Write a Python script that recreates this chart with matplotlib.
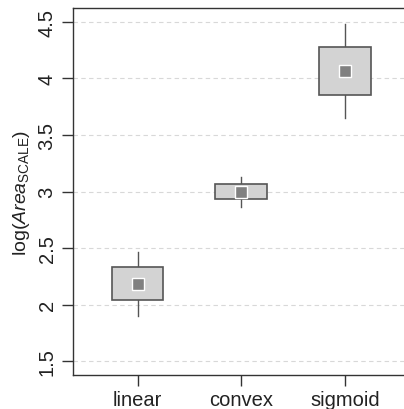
import matplotlib
matplotlib.use("Agg")
import matplotlib.pyplot as plt
from matplotlib.patches import Rectangle

plt.rcParams['font.family'] = ['Liberation Sans', 'DejaVu Sans']
plt.rcParams['mathtext.fontset'] = 'custom'
plt.rcParams['mathtext.rm'] = 'Liberation Sans'
plt.rcParams['mathtext.it'] = 'Liberation Sans:italic'
plt.rcParams['mathtext.bf'] = 'Liberation Sans:bold'

categories = ["linear", "convex", "sigmoid"]
centers = [2.185, 3.0, 4.065]
box_low = [2.038, 2.932, 3.851]
box_high = [2.333, 3.064, 4.276]
whisk_low = [1.897, 2.867, 3.648]
whisk_high = [2.47, 3.126, 4.482]
yticks = [1.5, 2, 2.5, 3, 3.5, 4, 4.5]
ytick_labels = ["1.5", "2", "2.5", "3", "3.5", "4", "4.5"]

W, H = 404, 410
fig = plt.figure(figsize=(W / 100, H / 100), dpi=100)
left, right, top, bottom = 73.3, 409, 9, 376
ax = fig.add_axes([left / W, 1 - bottom / H, (right - left) / W, (bottom - top) / H])

edge = '#555555'
for i, cat in enumerate(categories):
    x = i + 1
    ax.plot([x, x], [box_high[i], whisk_high[i]], color=edge, lw=1.0, zorder=2)
    ax.plot([x, x], [whisk_low[i], box_low[i]], color=edge, lw=1.0, zorder=2)
    ax.add_patch(Rectangle((x - 0.25, box_low[i]), 0.5, box_high[i] - box_low[i],
                           facecolor='#d3d3d3', edgecolor=edge, lw=1.2, zorder=3))
    ax.plot([x], [centers[i]], marker='s', markersize=8, markerfacecolor='#808080',
            markeredgecolor='white', markeredgewidth=1.0, linestyle='none', zorder=4)

ax.set_xlim(0.38, 3.62)
ax.set_ylim(1.38, 4.62)
ax.set_yticks(yticks)
ax.set_yticklabels(ytick_labels, rotation=90, va='center')
ax.set_xticks([1, 2, 3])
ax.set_xticklabels(categories)
for y in yticks:
    ax.axhline(y, color='#d8d8d8', lw=0.8, ls=(0, (4, 3)), zorder=1)

for s in ['left', 'bottom', 'top', 'right']:
    ax.spines[s].set_color('#333333')
    ax.spines[s].set_linewidth(1.0)
ax.tick_params(axis='both', direction='out', length=8, width=1.0, color='#333333',
               labelsize=14.5, labelcolor='#222222')
ax.tick_params(axis='y', pad=4)
ax.tick_params(axis='x', pad=3)

ax.set_ylabel(r'log$(\mathit{Area}_{\mathrm{SCALE}})$', fontsize=14, color='#222222', labelpad=4)

fig.savefig('out.png', dpi=100)
